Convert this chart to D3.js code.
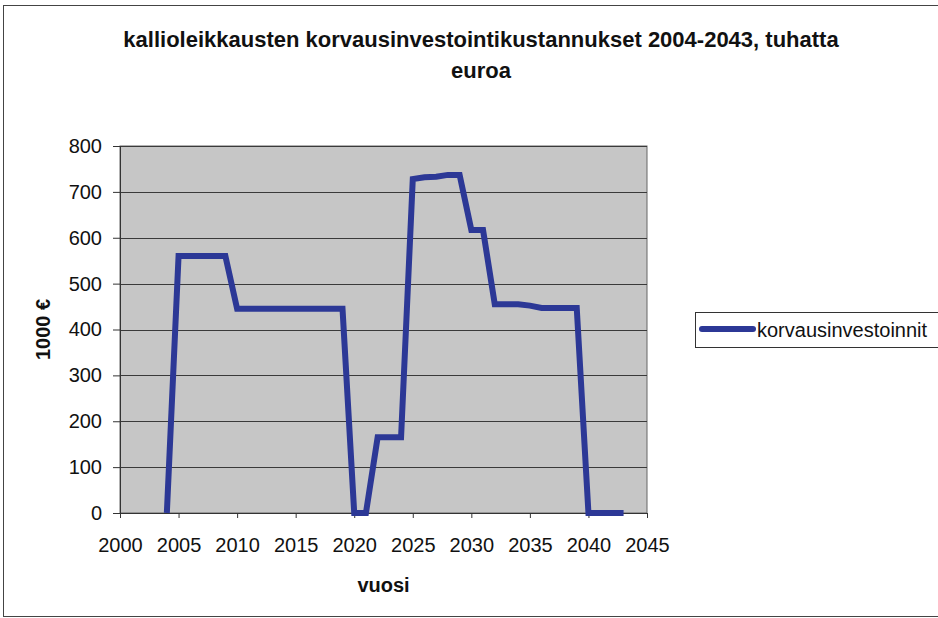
<!DOCTYPE html>
<html>
<head>
<meta charset="utf-8">
<script src="https://cdn.jsdelivr.net/npm/d3@7"></script>
<style>
  body { margin: 0; background: #fff; }
  text { font-family: "Liberation Sans", Arial, sans-serif; fill: #111; }
</style>
</head>
<body>
<script>
var CHART_WIDTH = 938;
var CHART_HEIGHT = 618;

// data (tuhatta euroa)
var years = d3.range(2004, 2044);
var values = [0, 560, 560, 560, 560, 560, 445, 445, 445, 445,
              445, 445, 445, 445, 445, 445, 0, 0, 165, 165,
              165, 728, 732, 733, 737, 737, 617, 617, 455, 455,
              455, 452, 447, 447, 447, 447, 0, 0, 0, 0];
var xTicks = [2000, 2005, 2010, 2015, 2020, 2025, 2030, 2035, 2040, 2045];
var yTicks = [0, 100, 200, 300, 400, 500, 600, 700, 800];

var titleLines = ["kallioleikkausten korvausinvestointikustannukset 2004-2043, tuhatta", "euroa"];
var seriesName = "korvausinvestoinnit";

var plot_left = 120, plot_right = 647, plot_top = 146, plot_bottom = 513;
var line_color = "#2c3896";

var svg = d3.select("body").append("svg")
    .attr("width", CHART_WIDTH)
    .attr("height", CHART_HEIGHT);

// outer chart frame
svg.append("rect")
    .attr("x", 3.5).attr("y", 5.5)
    .attr("width", CHART_WIDTH + 10).attr("height", 611)
    .style("fill", "#fff")
    .style("stroke", "#444");

// title
svg.append("g").selectAll("text")
    .data(titleLines).enter()
  .append("text")
    .attr("x", 481)
    .attr("y", function (d, i) { return 47 + i * 31; })
    .attr("text-anchor", "middle")
    .style("font-size", "22px")
    .style("font-weight", "bold")
    .text(function (d) { return d; });

var x = d3.scaleLinear().domain([2000, 2045]).range([plot_left, plot_right]);
var y = d3.scaleLinear().domain([0, 800]).range([plot_bottom, plot_top]);

// plot background
svg.append("rect")
    .attr("x", plot_left).attr("y", plot_top)
    .attr("width", plot_right - plot_left).attr("height", plot_bottom - plot_top)
    .style("fill", "#c6c6c6")
    .style("stroke", "#666");

// gridlines
svg.append("g").selectAll("line")
    .data(yTicks.slice(1)).enter()
  .append("line")
    .attr("x1", plot_left).attr("x2", plot_right)
    .attr("y1", function (d) { return Math.round(y(d)) + 0.5; })
    .attr("y2", function (d) { return Math.round(y(d)) + 0.5; })
    .style("stroke", "#3a3a3a")
    .style("stroke-width", 1.2);

// axes
var yAxis = svg.append("g")
    .attr("transform", "translate(" + plot_left + ",0)")
    .call(d3.axisLeft(y).tickValues(yTicks).tickSize(7).tickPadding(11));
var xAxis = svg.append("g")
    .attr("transform", "translate(0," + plot_bottom + ")")
    .call(d3.axisBottom(x).tickValues(xTicks).tickFormat(d3.format("d")).tickSize(5).tickPadding(20));

[yAxis, xAxis].forEach(function (ax) {
  ax.selectAll("path, line").style("stroke", "#333");
  ax.selectAll("text").style("font-size", "20px").style("fill", "#111");
});

// series line
var line = d3.line()
    .x(function (d, i) { return x(years[i]); })
    .y(function (d) { return y(d); });

svg.append("path")
    .datum(values)
    .attr("d", line)
    .style("fill", "none")
    .style("stroke", line_color)
    .style("stroke-width", 6)
    .style("stroke-linejoin", "miter");

// axis titles
svg.append("text")
    .attr("x", (plot_left + plot_right) / 2)
    .attr("y", 592)
    .attr("text-anchor", "middle")
    .style("font-size", "20px")
    .style("font-weight", "bold")
    .text("vuosi");

svg.append("text")
    .attr("transform", "translate(50," + ((plot_top + plot_bottom) / 2) + ") rotate(-90)")
    .attr("text-anchor", "middle")
    .style("font-size", "20px")
    .style("font-weight", "bold")
    .text("1000 €");

// legend
var legend = svg.append("g");
legend.append("rect")
    .attr("x", 695.5).attr("y", 312.5)
    .attr("width", 260).attr("height", 35)
    .style("fill", "#fff")
    .style("stroke", "#333");
legend.append("line")
    .attr("x1", 702).attr("x2", 753)
    .attr("y1", 329).attr("y2", 329)
    .style("stroke", line_color)
    .style("stroke-width", 6)
    .style("stroke-linecap", "round");
legend.append("text")
    .attr("x", 757).attr("y", 337)
    .style("font-size", "20px")
    .text(seriesName);
</script>
</body>
</html>
